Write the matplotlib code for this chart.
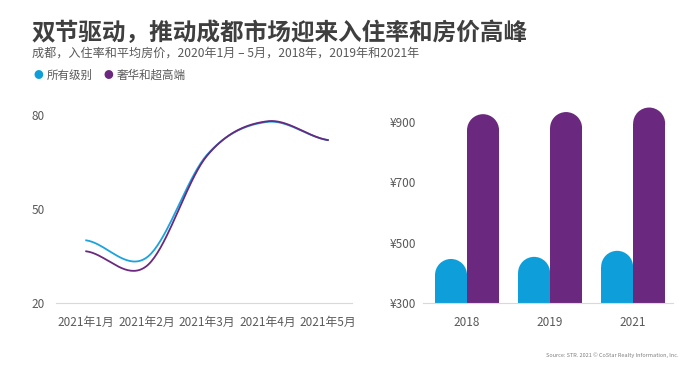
import numpy as np
import matplotlib.pyplot as plt
from matplotlib.patches import Ellipse

plt.rcParams['font.family'] = ['Noto Sans CJK SC', 'DejaVu Sans']

# occupancy (%) by month
months = ['2021年1月', '2021年2月', '2021年3月', '2021年4月', '2021年5月']
occ_all = [40, 34.5, 67.3, 77.8, 72]
occ_lux = [36.5, 31.8, 67.0, 78.0, 72]

# average daily rate (CNY)
years = ['2018', '2019', '2021']
adr_all = [446, 453, 473]
adr_lux = [926, 933, 948]

blue = '#0E9FDA'
purple = '#6A287E'
grey = '#595959'
title_col = '#3F3F3F'


def catmull(y, n=40):
    # smooth curve through the points (like the original line smoothing)
    p = np.array([y[0]] + list(y) + [y[-1]], dtype=float)
    xs, ys = [], []
    for i in range(1, len(p) - 2):
        t = np.linspace(0, 1, n)
        p0, p1, p2, p3 = p[i - 1], p[i], p[i + 1], p[i + 2]
        m1 = (p2 - p0) / 2
        m2 = (p3 - p1) / 2
        h00 = 2 * t**3 - 3 * t**2 + 1
        h10 = t**3 - 2 * t**2 + t
        h01 = -2 * t**3 + 3 * t**2
        h11 = t**3 - t**2
        xs.append(i - 1 + t)
        ys.append(h00 * p1 + h10 * m1 + h01 * p2 + h11 * m2)
    return np.concatenate(xs), np.concatenate(ys)


fig = plt.figure(figsize=(7, 3.67), dpi=100)

fig.text(32 / 700, 1 - 33 / 367, '双节驱动，推动成都市场迎来入住率和房价高峰', fontsize=17,
         fontweight='bold', color=title_col, va='center', ha='left')
fig.text(32 / 700, 1 - 53 / 367, '成都，入住率和平均房价，2020年1月 – 5月，2018年，2019年和2021年',
         fontsize=8.7, color=grey, va='center', ha='left')
fig.text(38 / 700, 1 - 75 / 367, '●', fontsize=7, color=blue, va='center', ha='center')
fig.text(47 / 700, 1 - 75 / 367, '所有级别', fontsize=8.3, color=grey, va='center', ha='left')
fig.text(108 / 700, 1 - 75 / 367, '●', fontsize=7, color=purple, va='center', ha='center')
fig.text(117 / 700, 1 - 75 / 367, '奢华和超高端', fontsize=8.3, color=grey, va='center', ha='left')
fig.text(678 / 700, 1 - 355 / 367, 'Source: STR. 2021 © CoStar Realty Information, Inc.',
         fontsize=4, color='#7f7f7f', va='center', ha='right')

# left: line chart
ax1 = fig.add_axes([56 / 700, 1 - 303 / 367, 296 / 700, 188 / 367])
x, y = catmull(occ_all)
ax1.plot(x, y, color='#1BA3DD', lw=1.3)
x, y = catmull(occ_lux)
ax1.plot(x, y, color=purple, lw=1.3)
ax1.set_xlim(-0.5, 4.4)
ax1.set_ylim(20, 80)
ax1.set_yticks([20, 50, 80])
ax1.set_xticks(range(len(months)))
ax1.set_xticklabels(months)
for s in ['top', 'right', 'left']:
    ax1.spines[s].set_visible(False)
ax1.spines['bottom'].set_color('#D9D9D9')
ax1.tick_params(length=0, colors=grey, labelsize=8.5)
ax1.tick_params(axis='y', pad=8)
ax1.tick_params(axis='x', pad=9)

# right: rounded bar chart
ax2 = fig.add_axes([423 / 700, 1 - 303 / 367, 250 / 700, 203 / 367])
ax2.set_xlim(-0.53, 2.48)
ax2.set_ylim(300, 973)
fig.canvas.draw()
bbox = ax2.get_window_extent()
ux = bbox.width / (2.48 + 0.53)
uy = bbox.height / (973 - 300)
w = 32 / ux
r_y = (w / 2) * ux / uy
pos = np.arange(len(years))
for vals, off, col in [(adr_all, -w / 2, blue), (adr_lux, w / 2, purple)]:
    tops = np.array(vals) - r_y
    ax2.bar(pos + off, tops - 300, bottom=300, width=w, color=col, lw=0)
    for xi, ti in zip(pos + off, tops):
        ax2.add_patch(Ellipse((xi, ti), w, 2 * r_y, color=col, lw=0))
ax2.set_yticks([300, 500, 700, 900])
ax2.set_yticklabels(['¥300', '¥500', '¥700', '¥900'])
ax2.set_xticks(pos)
ax2.set_xticklabels(years)
for s in ['top', 'right', 'left']:
    ax2.spines[s].set_visible(False)
ax2.spines['bottom'].set_color('#D9D9D9')
ax2.tick_params(length=0, colors=grey, labelsize=8.5)
ax2.tick_params(axis='y', pad=5)
ax2.tick_params(axis='x', pad=9)

fig.savefig('out.png', dpi=100)
